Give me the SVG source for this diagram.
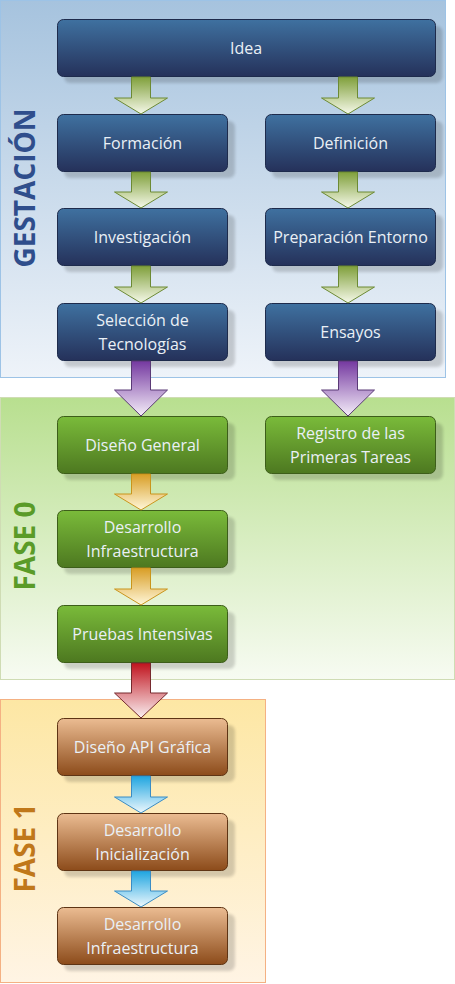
<svg xmlns="http://www.w3.org/2000/svg" width="455" height="984" viewBox="0 0 455 984">
<defs>
<linearGradient id="pg1" x1="0" y1="0" x2="0" y2="1"><stop offset="0" stop-color="#a6c3de"/><stop offset="1" stop-color="#eef3f9"/></linearGradient>
<linearGradient id="pg2" x1="0" y1="0" x2="0" y2="1"><stop offset="0" stop-color="#b8df8f"/><stop offset="1" stop-color="#f7fbf2"/></linearGradient>
<linearGradient id="pg3" x1="0" y1="0" x2="0" y2="1"><stop offset="0" stop-color="#fde7a4"/><stop offset="1" stop-color="#fff4e4"/></linearGradient>
<linearGradient id="nb" x1="0" y1="0" x2="0" y2="1"><stop offset="0" stop-color="#3f71a0"/><stop offset="1" stop-color="#25315a"/></linearGradient>
<linearGradient id="ng" x1="0" y1="0" x2="0" y2="1"><stop offset="0" stop-color="#7abb3a"/><stop offset="1" stop-color="#4d7820"/></linearGradient>
<linearGradient id="no" x1="0" y1="0" x2="0" y2="1"><stop offset="0" stop-color="#ebbc92"/><stop offset="1" stop-color="#8c4b1a"/></linearGradient>
<linearGradient id="ag" x1="0" y1="0" x2="0" y2="1"><stop offset="0" stop-color="#7f9f3a"/><stop offset="1" stop-color="#f6f9ea"/></linearGradient>
<linearGradient id="ap" x1="0" y1="0" x2="0" y2="1"><stop offset="0" stop-color="#7438a0"/><stop offset="1" stop-color="#f5eef9"/></linearGradient>
<linearGradient id="ay" x1="0" y1="0" x2="0" y2="1"><stop offset="0" stop-color="#d89d24"/><stop offset="1" stop-color="#fff7da"/></linearGradient>
<linearGradient id="ar" x1="0" y1="0" x2="0" y2="1"><stop offset="0" stop-color="#c0121c"/><stop offset="1" stop-color="#faf0f2"/></linearGradient>
<linearGradient id="ab" x1="0" y1="0" x2="0" y2="1"><stop offset="0" stop-color="#1ea5e0"/><stop offset="1" stop-color="#eef8fd"/></linearGradient>
<filter id="sh" x="-10%" y="-20%" width="120%" height="140%"><feGaussianBlur stdDeviation="1.5"/></filter>
</defs>
<style>
.sh{fill:#000;opacity:0.16;filter:url(#sh)}
.b{fill:url(#nb);stroke:#1e2b4c;stroke-width:1}
.g{fill:url(#ng);stroke:#3d5e1a;stroke-width:1}
.o{fill:url(#no);stroke:#5e3414;stroke-width:1}
.t{font-family:"Open Sans","DejaVu Sans",sans-serif;font-size:16px;fill:#eaf0f6;text-anchor:middle}
.ph{font-family:"Open Sans","DejaVu Sans",sans-serif;font-size:28px;font-weight:bold;text-anchor:middle}
.cg{fill:url(#ag);stroke:#6c8a34;stroke-width:1}
.cp{fill:url(#ap);stroke:#5a3a76;stroke-width:1}
.cy{fill:url(#ay);stroke:#c9951c;stroke-width:1}
.cr{fill:url(#ar);stroke:#762a2e;stroke-width:1}
.cb{fill:url(#ab);stroke:#3a8cc4;stroke-width:1}
</style>

<g id="panels">
<rect x="0.5" y="0.5" width="445" height="377" fill="url(#pg1)" stroke="#9dc3e6"/>
<rect x="0.5" y="397.5" width="454" height="282" fill="url(#pg2)" stroke="#cfdcb4"/>
<rect x="0.5" y="699.5" width="265" height="283" fill="url(#pg3)" stroke="#f4b183"/>
<text class="ph" fill="#2f4e8c" transform="translate(35,188) rotate(-90)">GESTACIÓN</text>
<text class="ph" fill="#5a9b28" transform="translate(35,546) rotate(-90)">FASE 0</text>
<text class="ph" fill="#c0781a" transform="translate(35,848) rotate(-90)">FASE 1</text>
</g>

<g id="n-idea"><rect class="sh" x="64" y="26" width="378.5" height="57" rx="6"/><rect class="b" x="57.5" y="19.5" width="378" height="57" rx="6"/><text class="t" x="246" y="53.5">Idea</text></g>
<g id="n-formacion"><rect class="sh" x="64" y="121" width="171" height="57" rx="6"/><rect class="b" x="57.5" y="114.5" width="170" height="57" rx="6"/><text class="t" x="142.5" y="148.5">Formación</text></g>
<g id="n-definicion"><rect class="sh" x="272" y="121" width="171" height="57" rx="6"/><rect class="b" x="265.5" y="114.5" width="170" height="57" rx="6"/><text class="t" x="350.5" y="148.5">Definición</text></g>
<g id="n-investigacion"><rect class="sh" x="64" y="215" width="171" height="57" rx="6"/><rect class="b" x="57.5" y="208.5" width="170" height="57" rx="6"/><text class="t" x="142.5" y="242.5">Investigación</text></g>
<g id="n-preparacion"><rect class="sh" x="272" y="215" width="171" height="57" rx="6"/><rect class="b" x="265.5" y="208.5" width="170" height="57" rx="6"/><text class="t" x="350.5" y="242.5">Preparación Entorno</text></g>
<g id="n-seleccion"><rect class="sh" x="64" y="310" width="171" height="57" rx="6"/><rect class="b" x="57.5" y="303.5" width="170" height="57" rx="6"/><text class="t" x="142.5" y="326">Selección de</text><text class="t" x="142.5" y="349.5">Tecnologías</text></g>
<g id="n-ensayos"><rect class="sh" x="272" y="310" width="171" height="57" rx="6"/><rect class="b" x="265.5" y="303.5" width="170" height="57" rx="6"/><text class="t" x="350.5" y="337.5">Ensayos</text></g>

<g id="n-diseno-general"><rect class="sh" x="64" y="423" width="171" height="57" rx="6"/><rect class="g" x="57.5" y="416.5" width="170" height="57" rx="6"/><text class="t" x="142.5" y="450.5">Diseño General</text></g>
<g id="n-registro"><rect class="sh" x="272" y="423" width="171" height="57" rx="6"/><rect class="g" x="265.5" y="416.5" width="170" height="57" rx="6"/><text class="t" x="350.5" y="439">Registro de las</text><text class="t" x="350.5" y="462.5">Primeras Tareas</text></g>
<g id="n-desarrollo-infra0"><rect class="sh" x="64" y="517" width="171" height="57" rx="6"/><rect class="g" x="57.5" y="510.5" width="170" height="57" rx="6"/><text class="t" x="142.5" y="533">Desarrollo</text><text class="t" x="142.5" y="556.5">Infraestructura</text></g>
<g id="n-pruebas"><rect class="sh" x="64" y="612" width="171" height="57" rx="6"/><rect class="g" x="57.5" y="605.5" width="170" height="57" rx="6"/><text class="t" x="142.5" y="639.5">Pruebas Intensivas</text></g>

<g id="n-diseno-api"><rect class="sh" x="64" y="725" width="171" height="57" rx="6"/><rect class="o" x="57.5" y="718.5" width="170" height="57" rx="6"/><text class="t" x="142.5" y="752.5">Diseño API Gráfica</text></g>
<g id="n-desarrollo-init"><rect class="sh" x="64" y="820" width="171" height="57" rx="6"/><rect class="o" x="57.5" y="813.5" width="170" height="57" rx="6"/><text class="t" x="142.5" y="836">Desarrollo</text><text class="t" x="142.5" y="859.5">Inicialización</text></g>
<g id="n-desarrollo-infra1"><rect class="sh" x="64" y="914" width="171" height="57" rx="6"/><rect class="o" x="57.5" y="907.5" width="170" height="57" rx="6"/><text class="t" x="142.5" y="930">Desarrollo</text><text class="t" x="142.5" y="953.5">Infraestructura</text></g>

<g id="connectors">
<path class="cg" d="M131.5,77 H150.5 V98 H167.5 L141,114 L114.5,98 H131.5 Z"/>
<path class="cg" d="M338.5,77 H357.5 V98 H374.5 L348,114 L321.5,98 H338.5 Z"/>
<path class="cg" d="M131.5,172 H150.5 V192 H167.5 L141,208 L114.5,192 H131.5 Z"/>
<path class="cg" d="M338.5,172 H357.5 V192 H374.5 L348,208 L321.5,192 H338.5 Z"/>
<path class="cg" d="M131.5,266 H150.5 V287 H167.5 L141,303 L114.5,287 H131.5 Z"/>
<path class="cg" d="M338.5,266 H357.5 V287 H374.5 L348,303 L321.5,287 H338.5 Z"/>
<path class="cp" d="M131.5,361 H150.5 V390 H167.5 L141,416 L114.5,390 H131.5 Z"/>
<path class="cp" d="M338.5,361 H357.5 V390 H374.5 L348,416 L321.5,390 H338.5 Z"/>
<path class="cy" d="M131.5,474 H150.5 V494 H167.5 L141,510 L114.5,494 H131.5 Z"/>
<path class="cy" d="M131.5,568 H150.5 V589 H167.5 L141,605 L114.5,589 H131.5 Z"/>
<path class="cr" d="M131.5,663 H150.5 V693 H167.5 L141,718 L114.5,693 H131.5 Z"/>
<path class="cb" d="M131.5,776 H150.5 V797 H167.5 L141,813 L114.5,797 H131.5 Z"/>
<path class="cb" d="M131.5,871 H150.5 V891 H167.5 L141,907 L114.5,891 H131.5 Z"/>
</g>
</svg>
